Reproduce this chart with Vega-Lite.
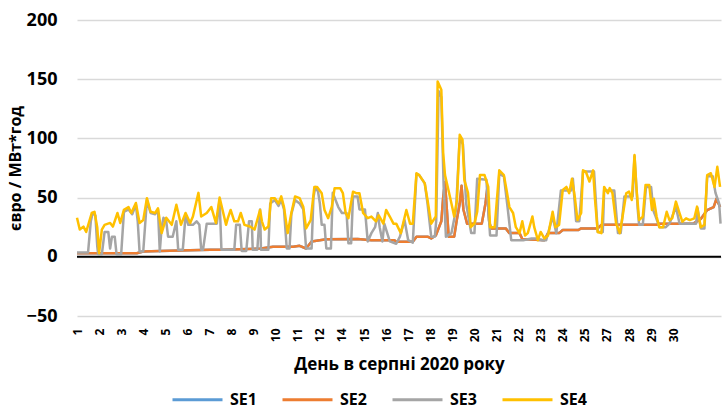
{
"$schema": "https://vega.github.io/schema/vega-lite/v6.json",
"width": 644, "height": 296,
"autosize": {"type": "none"},
"padding": {"left": 77, "top": 20, "right": 1, "bottom": 92},
"background": "white",
"config": {"font": "Open Sans", "view": {"stroke": null}},
"layer": [
{"data": {"values": [{"level": 0}]}, "mark": {"type": "rule", "color": "#000000", "strokeWidth": 2}, "encoding": {"y": {"field": "level", "type": "quantitative"}}},
{
"data": {"values": [
{"hour":0,"zone":"SE1","price":3},{"hour":65,"zone":"SE1","price":3},{"hour":72,"zone":"SE1","price":4.5},{"hour":90,"zone":"SE1","price":5},{"hour":145,"zone":"SE1","price":6},{"hour":160,"zone":"SE1","price":6},{"hour":200,"zone":"SE1","price":7},{"hour":213,"zone":"SE1","price":8.5},{"hour":235,"zone":"SE1","price":8.5},{"hour":242,"zone":"SE1","price":9.3},{"hour":249,"zone":"SE1","price":7},{"hour":255,"zone":"SE1","price":13},{"hour":271,"zone":"SE1","price":14.8},{"hour":305,"zone":"SE1","price":15},{"hour":320,"zone":"SE1","price":14},{"hour":345,"zone":"SE1","price":14},{"hour":347,"zone":"SE1","price":12.7},{"hour":365,"zone":"SE1","price":12.7},{"hour":369,"zone":"SE1","price":17},{"hour":381,"zone":"SE1","price":17},{"hour":385,"zone":"SE1","price":15.5},{"hour":390,"zone":"SE1","price":18},{"hour":396,"zone":"SE1","price":30},{"hour":398,"zone":"SE1","price":50},{"hour":400,"zone":"SE1","price":63},{"hour":402,"zone":"SE1","price":40},{"hour":404,"zone":"SE1","price":17},{"hour":410,"zone":"SE1","price":17},{"hour":413,"zone":"SE1","price":32},{"hour":416,"zone":"SE1","price":45},{"hour":418,"zone":"SE1","price":60},{"hour":420,"zone":"SE1","price":40},{"hour":424,"zone":"SE1","price":28},{"hour":440,"zone":"SE1","price":28},{"hour":444,"zone":"SE1","price":45},{"hour":446,"zone":"SE1","price":58},{"hour":448,"zone":"SE1","price":30},{"hour":450,"zone":"SE1","price":24},{"hour":466,"zone":"SE1","price":24},{"hour":470,"zone":"SE1","price":20},{"hour":481,"zone":"SE1","price":20},{"hour":484,"zone":"SE1","price":15},{"hour":508,"zone":"SE1","price":14},{"hour":512,"zone":"SE1","price":20},{"hour":524,"zone":"SE1","price":20},{"hour":528,"zone":"SE1","price":22.6},{"hour":545,"zone":"SE1","price":22.6},{"hour":548,"zone":"SE1","price":24},{"hour":566,"zone":"SE1","price":24},{"hour":570,"zone":"SE1","price":27},{"hour":630,"zone":"SE1","price":27},{"hour":633,"zone":"SE1","price":28},{"hour":670,"zone":"SE1","price":28},{"hour":678,"zone":"SE1","price":32},{"hour":685,"zone":"SE1","price":39.5},{"hour":692,"zone":"SE1","price":42},{"hour":695,"zone":"SE1","price":49},{"hour":699,"zone":"SE1","price":42},
{"hour":0,"zone":"SE2","price":3},{"hour":65,"zone":"SE2","price":3},{"hour":72,"zone":"SE2","price":4.5},{"hour":90,"zone":"SE2","price":5},{"hour":145,"zone":"SE2","price":6},{"hour":160,"zone":"SE2","price":6},{"hour":200,"zone":"SE2","price":7},{"hour":213,"zone":"SE2","price":8.5},{"hour":235,"zone":"SE2","price":8.5},{"hour":242,"zone":"SE2","price":9.3},{"hour":249,"zone":"SE2","price":7},{"hour":255,"zone":"SE2","price":13},{"hour":271,"zone":"SE2","price":14.8},{"hour":305,"zone":"SE2","price":15},{"hour":320,"zone":"SE2","price":14},{"hour":345,"zone":"SE2","price":14},{"hour":347,"zone":"SE2","price":12.7},{"hour":365,"zone":"SE2","price":12.7},{"hour":369,"zone":"SE2","price":17},{"hour":381,"zone":"SE2","price":17},{"hour":385,"zone":"SE2","price":15.5},{"hour":390,"zone":"SE2","price":18},{"hour":396,"zone":"SE2","price":30},{"hour":398,"zone":"SE2","price":50},{"hour":400,"zone":"SE2","price":63},{"hour":402,"zone":"SE2","price":40},{"hour":404,"zone":"SE2","price":17},{"hour":410,"zone":"SE2","price":17},{"hour":413,"zone":"SE2","price":32},{"hour":416,"zone":"SE2","price":45},{"hour":418,"zone":"SE2","price":60},{"hour":420,"zone":"SE2","price":40},{"hour":424,"zone":"SE2","price":28},{"hour":440,"zone":"SE2","price":28},{"hour":444,"zone":"SE2","price":45},{"hour":446,"zone":"SE2","price":58},{"hour":448,"zone":"SE2","price":30},{"hour":450,"zone":"SE2","price":24},{"hour":466,"zone":"SE2","price":24},{"hour":470,"zone":"SE2","price":20},{"hour":481,"zone":"SE2","price":20},{"hour":484,"zone":"SE2","price":15},{"hour":508,"zone":"SE2","price":14},{"hour":512,"zone":"SE2","price":20},{"hour":524,"zone":"SE2","price":20},{"hour":528,"zone":"SE2","price":22.6},{"hour":545,"zone":"SE2","price":22.6},{"hour":548,"zone":"SE2","price":24},{"hour":566,"zone":"SE2","price":24},{"hour":570,"zone":"SE2","price":27},{"hour":630,"zone":"SE2","price":27},{"hour":633,"zone":"SE2","price":28},{"hour":670,"zone":"SE2","price":28},{"hour":678,"zone":"SE2","price":32},{"hour":685,"zone":"SE2","price":39.5},{"hour":692,"zone":"SE2","price":42},{"hour":695,"zone":"SE2","price":49},{"hour":699,"zone":"SE2","price":42},
{"hour":0,"zone":"SE3","price":3.6},{"hour":12,"zone":"SE3","price":3.6},{"hour":15,"zone":"SE3","price":30},{"hour":17,"zone":"SE3","price":37},{"hour":20,"zone":"SE3","price":35},{"hour":22,"zone":"SE3","price":9},{"hour":23,"zone":"SE3","price":2},{"hour":27,"zone":"SE3","price":2},{"hour":30,"zone":"SE3","price":21},{"hour":34,"zone":"SE3","price":21},{"hour":36,"zone":"SE3","price":7},{"hour":38,"zone":"SE3","price":17},{"hour":41,"zone":"SE3","price":17},{"hour":43,"zone":"SE3","price":2},{"hour":48,"zone":"SE3","price":2},{"hour":51,"zone":"SE3","price":38},{"hour":56,"zone":"SE3","price":40},{"hour":60,"zone":"SE3","price":36},{"hour":64,"zone":"SE3","price":44},{"hour":66,"zone":"SE3","price":30},{"hour":68,"zone":"SE3","price":4.5},{"hour":72,"zone":"SE3","price":4.5},{"hour":76,"zone":"SE3","price":48},{"hour":80,"zone":"SE3","price":37},{"hour":85,"zone":"SE3","price":36},{"hour":88,"zone":"SE3","price":40},{"hour":90,"zone":"SE3","price":4.5},{"hour":92,"zone":"SE3","price":25},{"hour":94,"zone":"SE3","price":33},{"hour":97,"zone":"SE3","price":30},{"hour":99,"zone":"SE3","price":17},{"hour":104,"zone":"SE3","price":17},{"hour":108,"zone":"SE3","price":30},{"hour":110,"zone":"SE3","price":6},{"hour":115,"zone":"SE3","price":6},{"hour":118,"zone":"SE3","price":35},{"hour":121,"zone":"SE3","price":27},{"hour":126,"zone":"SE3","price":27},{"hour":130,"zone":"SE3","price":30},{"hour":133,"zone":"SE3","price":27},{"hour":135,"zone":"SE3","price":6},{"hour":137,"zone":"SE3","price":6},{"hour":141,"zone":"SE3","price":28},{"hour":147,"zone":"SE3","price":28},{"hour":152,"zone":"SE3","price":28},{"hour":155,"zone":"SE3","price":48},{"hour":157,"zone":"SE3","price":6},{"hour":162,"zone":"SE3","price":6},{"hour":171,"zone":"SE3","price":6},{"hour":173,"zone":"SE3","price":27},{"hour":177,"zone":"SE3","price":27},{"hour":179,"zone":"SE3","price":5},{"hour":184,"zone":"SE3","price":5},{"hour":187,"zone":"SE3","price":30},{"hour":190,"zone":"SE3","price":30},{"hour":191,"zone":"SE3","price":6},{"hour":196,"zone":"SE3","price":6},{"hour":199,"zone":"SE3","price":40},{"hour":200,"zone":"SE3","price":6},{"hour":208,"zone":"SE3","price":6},{"hour":210,"zone":"SE3","price":45},{"hour":215,"zone":"SE3","price":48},{"hour":219,"zone":"SE3","price":43},{"hour":222,"zone":"SE3","price":48},{"hour":225,"zone":"SE3","price":40},{"hour":228,"zone":"SE3","price":7},{"hour":231,"zone":"SE3","price":7},{"hour":233,"zone":"SE3","price":36},{"hour":237,"zone":"SE3","price":48},{"hour":242,"zone":"SE3","price":45},{"hour":246,"zone":"SE3","price":40},{"hour":249,"zone":"SE3","price":7},{"hour":255,"zone":"SE3","price":7},{"hour":257,"zone":"SE3","price":50},{"hour":259,"zone":"SE3","price":59},{"hour":262,"zone":"SE3","price":55},{"hour":264,"zone":"SE3","price":45},{"hour":266,"zone":"SE3","price":27},{"hour":269,"zone":"SE3","price":27},{"hour":271,"zone":"SE3","price":7},{"hour":276,"zone":"SE3","price":7},{"hour":278,"zone":"SE3","price":54},{"hour":284,"zone":"SE3","price":42},{"hour":288,"zone":"SE3","price":37},{"hour":293,"zone":"SE3","price":37},{"hour":295,"zone":"SE3","price":11.5},{"hour":298,"zone":"SE3","price":11.5},{"hour":300,"zone":"SE3","price":51},{"hour":305,"zone":"SE3","price":51},{"hour":307,"zone":"SE3","price":40},{"hour":313,"zone":"SE3","price":40},{"hour":316,"zone":"SE3","price":13},{"hour":320,"zone":"SE3","price":20},{"hour":324,"zone":"SE3","price":25},{"hour":327,"zone":"SE3","price":37},{"hour":329,"zone":"SE3","price":25},{"hour":332,"zone":"SE3","price":13},{"hour":334,"zone":"SE3","price":28},{"hour":340,"zone":"SE3","price":13},{"hour":347,"zone":"SE3","price":11},{"hour":351,"zone":"SE3","price":17},{"hour":356,"zone":"SE3","price":31},{"hour":360,"zone":"SE3","price":14},{"hour":365,"zone":"SE3","price":12},{"hour":369,"zone":"SE3","price":70},{"hour":372,"zone":"SE3","price":69},{"hour":378,"zone":"SE3","price":62},{"hour":381,"zone":"SE3","price":45},{"hour":385,"zone":"SE3","price":17},{"hour":389,"zone":"SE3","price":17},{"hour":390.5,"zone":"SE3","price":31},{"hour":393,"zone":"SE3","price":140},{"hour":396,"zone":"SE3","price":135},{"hour":398.5,"zone":"SE3","price":60},{"hour":401,"zone":"SE3","price":17},{"hour":407,"zone":"SE3","price":20},{"hour":412,"zone":"SE3","price":40},{"hour":416,"zone":"SE3","price":100},{"hour":419.5,"zone":"SE3","price":95},{"hour":423,"zone":"SE3","price":45},{"hour":428.5,"zone":"SE3","price":20},{"hour":432,"zone":"SE3","price":20},{"hour":435,"zone":"SE3","price":66},{"hour":445,"zone":"SE3","price":65},{"hour":449,"zone":"SE3","price":18},{"hour":456,"zone":"SE3","price":18},{"hour":459,"zone":"SE3","price":70},{"hour":464,"zone":"SE3","price":68},{"hour":468,"zone":"SE3","price":42},{"hour":472,"zone":"SE3","price":14},{"hour":485,"zone":"SE3","price":14},{"hour":494,"zone":"SE3","price":15.5},{"hour":499,"zone":"SE3","price":15.5},{"hour":506,"zone":"SE3","price":14},{"hour":510,"zone":"SE3","price":14},{"hour":517,"zone":"SE3","price":34},{"hour":521,"zone":"SE3","price":20},{"hour":526,"zone":"SE3","price":56},{"hour":537,"zone":"SE3","price":56},{"hour":539,"zone":"SE3","price":66},{"hour":542.5,"zone":"SE3","price":30},{"hour":546,"zone":"SE3","price":30},{"hour":550,"zone":"SE3","price":72},{"hour":562,"zone":"SE3","price":72},{"hour":566,"zone":"SE3","price":21},{"hour":571.5,"zone":"SE3","price":21},{"hour":573,"zone":"SE3","price":56},{"hour":584,"zone":"SE3","price":56},{"hour":588,"zone":"SE3","price":20},{"hour":591,"zone":"SE3","price":20},{"hour":595,"zone":"SE3","price":51},{"hour":604,"zone":"SE3","price":51},{"hour":606,"zone":"SE3","price":85},{"hour":609.5,"zone":"SE3","price":40},{"hour":611,"zone":"SE3","price":27},{"hour":615,"zone":"SE3","price":27},{"hour":618.5,"zone":"SE3","price":59},{"hour":624,"zone":"SE3","price":59},{"hour":626.5,"zone":"SE3","price":39},{"hour":629,"zone":"SE3","price":34},{"hour":633,"zone":"SE3","price":25},{"hour":640,"zone":"SE3","price":25},{"hour":644,"zone":"SE3","price":28},{"hour":651,"zone":"SE3","price":42},{"hour":655,"zone":"SE3","price":28},{"hour":673,"zone":"SE3","price":28},{"hour":674.5,"zone":"SE3","price":41},{"hour":678,"zone":"SE3","price":24},{"hour":682,"zone":"SE3","price":24},{"hour":685,"zone":"SE3","price":68},{"hour":691,"zone":"SE3","price":68},{"hour":694,"zone":"SE3","price":54},{"hour":698,"zone":"SE3","price":45},{"hour":699.5,"zone":"SE3","price":28},
{"hour":0,"zone":"SE4","price":33},{"hour":3,"zone":"SE4","price":23},{"hour":7,"zone":"SE4","price":25.5},{"hour":10,"zone":"SE4","price":21},{"hour":16,"zone":"SE4","price":37},{"hour":19,"zone":"SE4","price":38},{"hour":22,"zone":"SE4","price":25},{"hour":24,"zone":"SE4","price":3},{"hour":27,"zone":"SE4","price":23},{"hour":30,"zone":"SE4","price":27},{"hour":36,"zone":"SE4","price":28.6},{"hour":39,"zone":"SE4","price":25.5},{"hour":44,"zone":"SE4","price":37},{"hour":47,"zone":"SE4","price":28.6},{"hour":51,"zone":"SE4","price":39.6},{"hour":56,"zone":"SE4","price":42},{"hour":59,"zone":"SE4","price":37},{"hour":64,"zone":"SE4","price":45.5},{"hour":68,"zone":"SE4","price":28.6},{"hour":72,"zone":"SE4","price":31},{"hour":76,"zone":"SE4","price":49.5},{"hour":80,"zone":"SE4","price":38},{"hour":85,"zone":"SE4","price":37},{"hour":88,"zone":"SE4","price":41},{"hour":92,"zone":"SE4","price":20},{"hour":97,"zone":"SE4","price":33},{"hour":103,"zone":"SE4","price":27},{"hour":108,"zone":"SE4","price":44},{"hour":113,"zone":"SE4","price":27},{"hour":118,"zone":"SE4","price":37},{"hour":123,"zone":"SE4","price":28.6},{"hour":126,"zone":"SE4","price":34},{"hour":132,"zone":"SE4","price":54},{"hour":135,"zone":"SE4","price":34},{"hour":141,"zone":"SE4","price":37},{"hour":146,"zone":"SE4","price":42},{"hour":151,"zone":"SE4","price":28.6},{"hour":155,"zone":"SE4","price":50},{"hour":159,"zone":"SE4","price":37},{"hour":162,"zone":"SE4","price":27},{"hour":164,"zone":"SE4","price":32.6},{"hour":167,"zone":"SE4","price":39.6},{"hour":171,"zone":"SE4","price":30},{"hour":175,"zone":"SE4","price":30},{"hour":178,"zone":"SE4","price":37},{"hour":182,"zone":"SE4","price":27},{"hour":188,"zone":"SE4","price":25.6},{"hour":193,"zone":"SE4","price":23},{"hour":199,"zone":"SE4","price":39.6},{"hour":201,"zone":"SE4","price":30},{"hour":204,"zone":"SE4","price":23},{"hour":208,"zone":"SE4","price":25.6},{"hour":211,"zone":"SE4","price":49.5},{"hour":215,"zone":"SE4","price":49.5},{"hour":219,"zone":"SE4","price":45},{"hour":222,"zone":"SE4","price":51},{"hour":225,"zone":"SE4","price":42},{"hour":229,"zone":"SE4","price":20},{"hour":233,"zone":"SE4","price":37},{"hour":237,"zone":"SE4","price":51},{"hour":242,"zone":"SE4","price":49.5},{"hour":246,"zone":"SE4","price":42},{"hour":249,"zone":"SE4","price":24},{"hour":254,"zone":"SE4","price":31},{"hour":258,"zone":"SE4","price":59},{"hour":261,"zone":"SE4","price":59},{"hour":266,"zone":"SE4","price":53.6},{"hour":269,"zone":"SE4","price":39.6},{"hour":273,"zone":"SE4","price":32.6},{"hour":277,"zone":"SE4","price":42.4},{"hour":280,"zone":"SE4","price":58},{"hour":286,"zone":"SE4","price":58},{"hour":289,"zone":"SE4","price":53.7},{"hour":292,"zone":"SE4","price":37},{"hour":295,"zone":"SE4","price":32.6},{"hour":300,"zone":"SE4","price":55},{"hour":304,"zone":"SE4","price":53.6},{"hour":307,"zone":"SE4","price":53.7},{"hour":311,"zone":"SE4","price":37},{"hour":316,"zone":"SE4","price":32.6},{"hour":320,"zone":"SE4","price":34},{"hour":325,"zone":"SE4","price":30},{"hour":328,"zone":"SE4","price":35},{"hour":333,"zone":"SE4","price":28},{"hour":336,"zone":"SE4","price":39.6},{"hour":340,"zone":"SE4","price":34},{"hour":344,"zone":"SE4","price":28},{"hour":347,"zone":"SE4","price":28},{"hour":352,"zone":"SE4","price":20},{"hour":358,"zone":"SE4","price":39.5},{"hour":362,"zone":"SE4","price":28},{"hour":365,"zone":"SE4","price":28},{"hour":369,"zone":"SE4","price":70.6},{"hour":372,"zone":"SE4","price":69},{"hour":378,"zone":"SE4","price":62},{"hour":381,"zone":"SE4","price":48},{"hour":385,"zone":"SE4","price":28},{"hour":390,"zone":"SE4","price":34},{"hour":392,"zone":"SE4","price":148},{"hour":396,"zone":"SE4","price":141},{"hour":398,"zone":"SE4","price":88},{"hour":400,"zone":"SE4","price":69},{"hour":403,"zone":"SE4","price":59},{"hour":407,"zone":"SE4","price":45},{"hour":410,"zone":"SE4","price":34},{"hour":413,"zone":"SE4","price":48},{"hour":416,"zone":"SE4","price":103},{"hour":419,"zone":"SE4","price":99},{"hour":421,"zone":"SE4","price":65},{"hour":425,"zone":"SE4","price":54},{"hour":428,"zone":"SE4","price":25},{"hour":432,"zone":"SE4","price":28},{"hour":435,"zone":"SE4","price":38},{"hour":438,"zone":"SE4","price":69},{"hour":443,"zone":"SE4","price":69},{"hour":447,"zone":"SE4","price":59},{"hour":449,"zone":"SE4","price":25},{"hour":454,"zone":"SE4","price":25},{"hour":459,"zone":"SE4","price":73},{"hour":464,"zone":"SE4","price":69},{"hour":467,"zone":"SE4","price":56},{"hour":470,"zone":"SE4","price":42},{"hour":474,"zone":"SE4","price":37},{"hour":477,"zone":"SE4","price":25},{"hour":481,"zone":"SE4","price":20},{"hour":484,"zone":"SE4","price":30},{"hour":487,"zone":"SE4","price":18},{"hour":490,"zone":"SE4","price":20},{"hour":495,"zone":"SE4","price":34},{"hour":497,"zone":"SE4","price":25},{"hour":501,"zone":"SE4","price":14},{"hour":504,"zone":"SE4","price":21},{"hour":508,"zone":"SE4","price":15.5},{"hour":512,"zone":"SE4","price":18},{"hour":517,"zone":"SE4","price":38},{"hour":520,"zone":"SE4","price":25},{"hour":524,"zone":"SE4","price":27},{"hour":528,"zone":"SE4","price":56.5},{"hour":532,"zone":"SE4","price":59},{"hour":535,"zone":"SE4","price":53.7},{"hour":538,"zone":"SE4","price":66},{"hour":541,"zone":"SE4","price":51},{"hour":544,"zone":"SE4","price":31},{"hour":548,"zone":"SE4","price":37},{"hour":550,"zone":"SE4","price":73},{"hour":553,"zone":"SE4","price":72},{"hour":557,"zone":"SE4","price":63.6},{"hour":561,"zone":"SE4","price":73},{"hour":563,"zone":"SE4","price":49},{"hour":566,"zone":"SE4","price":21},{"hour":570,"zone":"SE4","price":20},{"hour":573,"zone":"SE4","price":59},{"hour":577,"zone":"SE4","price":53.7},{"hour":579,"zone":"SE4","price":58},{"hour":582,"zone":"SE4","price":53.7},{"hour":586,"zone":"SE4","price":28},{"hour":590,"zone":"SE4","price":20},{"hour":593,"zone":"SE4","price":34},{"hour":597,"zone":"SE4","price":53.7},{"hour":600,"zone":"SE4","price":55},{"hour":603,"zone":"SE4","price":48},{"hour":606,"zone":"SE4","price":86},{"hour":608,"zone":"SE4","price":59},{"hour":611,"zone":"SE4","price":31},{"hour":615,"zone":"SE4","price":34},{"hour":618,"zone":"SE4","price":60.7},{"hour":622,"zone":"SE4","price":60.7},{"hour":625,"zone":"SE4","price":39.5},{"hour":627,"zone":"SE4","price":49},{"hour":630,"zone":"SE4","price":34},{"hour":633,"zone":"SE4","price":25},{"hour":637,"zone":"SE4","price":25},{"hour":641,"zone":"SE4","price":38},{"hour":644,"zone":"SE4","price":31},{"hour":647,"zone":"SE4","price":32.5},{"hour":651,"zone":"SE4","price":46.6},{"hour":655,"zone":"SE4","price":36.7},{"hour":658,"zone":"SE4","price":29.7},{"hour":662,"zone":"SE4","price":32.5},{"hour":666,"zone":"SE4","price":31},{"hour":671,"zone":"SE4","price":32.5},{"hour":674,"zone":"SE4","price":42.4},{"hour":678,"zone":"SE4","price":25},{"hour":682,"zone":"SE4","price":27},{"hour":685,"zone":"SE4","price":69},{"hour":689,"zone":"SE4","price":70.6},{"hour":693,"zone":"SE4","price":59},{"hour":696,"zone":"SE4","price":76},{"hour":699,"zone":"SE4","price":59}
]},
"mark": {"type": "line", "strokeWidth": 2.5, "strokeJoin": "round"},
"encoding": {
"x": {"field": "hour", "type": "quantitative", "scale": {"domain": [0, 700], "nice": false, "zero": false},
 "axis": {"values": [0,24,48,72,96,120,144,168,192,216,240,264,288,312,336,360,384,408,432,456,480,504,528,552,576,600,624,648],
  "labelExpr": "['1','2','3','4','5','6','7','8','9','10','11','12','14','15','16','17','18','19','20','21','22','23','24','25','27','28','29','30'][round(datum.value/24)]",
  "labelAngle": -90, "labelFontSize": 12, "labelFontWeight": "bold", "labelColor": "#000000", "labelPadding": 12, "labelOverlap": false, "labelFlush": false,
  "domain": false, "ticks": false, "grid": false,
  "title": "День в серпні 2020 року", "titleFontSize": 17, "titleFontWeight": "bold", "titleColor": "#000000", "titleY": 40, "titleBaseline": "top"}},
"y": {"field": "price", "type": "quantitative", "scale": {"domain": [-50, 200], "nice": false},
 "axis": {"values": [-50,0,50,100,150,200], "domain": false, "ticks": false, "gridColor": "#d9d9d9", "gridWidth": 1.5,
  "labelFontSize": 18, "labelFontWeight": "bold", "labelColor": "#000000", "labelPadding": 20,
  "title": "євро / МВт*год", "titleFontSize": 16, "titleFontWeight": "bold", "titleColor": "#000000", "titlePadding": 3}},
"color": {"field": "zone", "type": "nominal", "scale": {"domain": ["SE1","SE2","SE3","SE4"], "range": ["#5B9BD5","#ED7D31","#A5A5A5","#FFC000"]},
 "legend": {"orient": "none", "legendX": 94, "legendY": 353, "direction": "horizontal", "title": null, "symbolType": "stroke", "symbolSize": 2500, "symbolStrokeWidth": 3, "labelFontSize": 16, "labelFontWeight": "bold", "labelColor": "#000000", "columnPadding": 19, "labelOffset": 6, "labelLimit": 0}}
}
}
]
}
